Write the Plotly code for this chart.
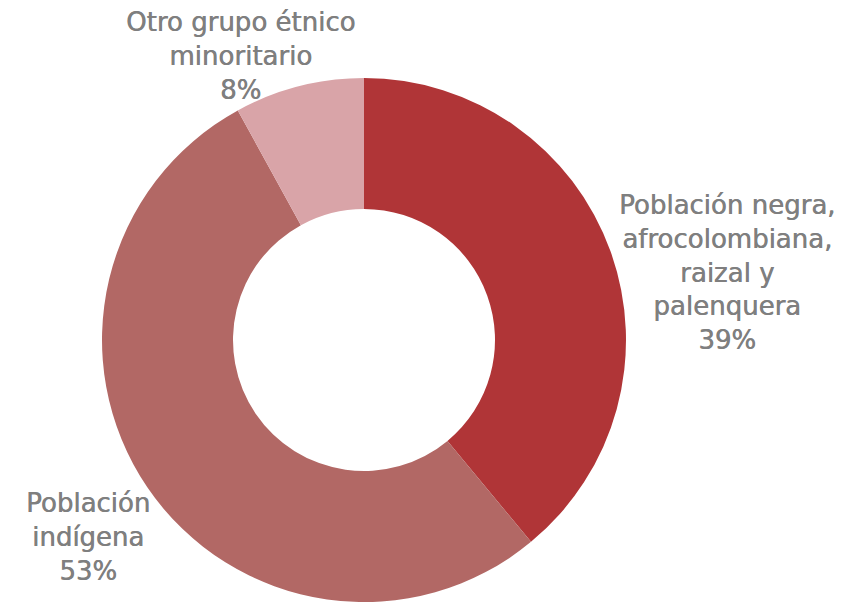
import plotly.graph_objects as go

labels = ["Población negra, afrocolombiana, raizal y palenquera",
          "Población indígena",
          "Otro grupo étnico minoritario"]
display_labels = ["Población negra,<br>afrocolombiana,<br>raizal y<br>palenquera",
                  "Población<br>indígena",
                  "Otro grupo étnico<br>minoritario"]
values = [39, 53, 8]
colors = ["#B03537", "#B26865", "#D9A4A8"]
label_pos = [(0.8299, 0.5606), (0.0922, 0.1228), (0.2683, 0.9204)]

W, H = 866, 603
cx, cy, R = 356, 332, 262

fig = go.Figure(go.Pie(
    labels=labels, values=values, hole=0.5, sort=False,
    direction="clockwise", rotation=0,
    marker=dict(colors=colors, line=dict(width=0)),
    textinfo="none", hoverinfo="label+percent",
    domain=dict(x=[(cx - R) / W, (cx + R) / W],
                y=[(H - cy - R) / H, (H - cy + R) / H]),
    showlegend=False,
))

total = sum(values)
for dl, v, (x, y) in zip(display_labels, values, label_pos):
    fig.add_annotation(
        x=x, y=y, xref="paper", yref="paper",
        text=f"{dl}<br>{round(100 * v / total)}%",
        showarrow=False, align="center", xanchor="center", yanchor="middle",
        font=dict(family="DejaVu Sans", size=26, color="#7F7F7F",
                  shadow="0.5px 0px 0px #7F7F7F"),
    )

fig.update_layout(
    width=W, height=H,
    margin=dict(l=0, r=0, t=0, b=0),
    paper_bgcolor="white", plot_bgcolor="white",
)
fig.write_html("out.html")
